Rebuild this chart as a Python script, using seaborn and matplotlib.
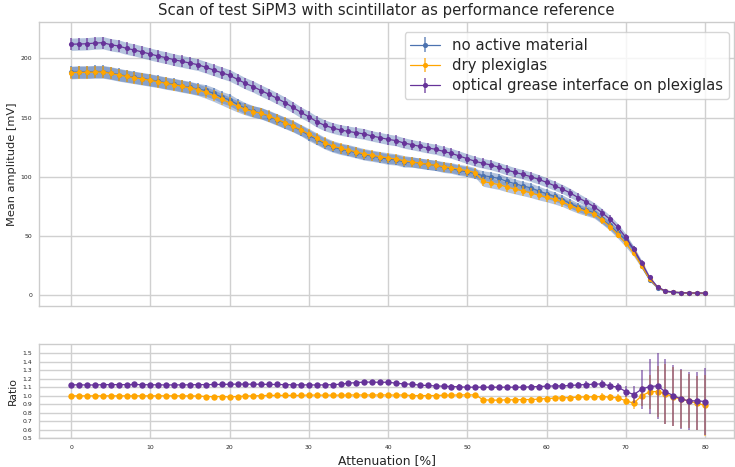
import matplotlib
matplotlib.use("Agg")
import numpy as np
import pandas as pd
import seaborn as sns
import matplotlib.pyplot as plt
from matplotlib.container import ErrorbarContainer

# ---------------- data ----------------
attenuation = list(range(0, 81))

amp_no_material = [
    188.3, 188.6, 188.6, 188.9, 188.9, 187.8, 186.4, 185.2, 184.1, 183.0,
    181.9, 180.7, 179.3, 178.2, 176.8, 175.6, 174.0, 172.9, 170.5, 167.2,
    165.0, 161.1, 157.8, 155.3, 153.6, 150.8, 148.1, 145.3, 142.5, 139.1,
    135.0, 131.6, 128.0, 125.2, 123.3, 121.9, 120.2, 118.5, 117.4, 116.2,
    114.8, 114.3, 112.5, 112.4, 111.4, 110.4, 109.5, 107.9, 107.0, 105.3,
    104.2, 102.6, 100.9, 99.9, 98.5, 96.0, 94.1, 92.2, 90.6, 88.0,
    85.6, 83.3, 80.7, 77.3, 74.1, 71.7, 69.5, 64.0, 58.9, 52.4,
    46.5, 38.6, 24.5, 12.9, 6.2, 3.2, 2.4, 2.0, 1.8, 1.75,
    1.6]

amp_dry_plexiglas = [
    187.9, 188.2, 188.2, 188.5, 188.5, 187.4, 186.0, 184.8, 183.7, 182.6,
    181.5, 180.3, 178.9, 177.8, 176.4, 175.2, 173.6, 171.2, 168.5, 165.5,
    162.5, 159.5, 157.0, 155.0, 153.6, 151.3, 148.5, 145.7, 142.9, 139.5,
    136.1, 132.4, 128.8, 126.0, 124.0, 122.6, 120.9, 119.2, 118.1, 116.9,
    115.8, 115.0, 113.5, 112.5, 111.5, 110.5, 109.6, 108.5, 107.6, 106.2,
    105.1, 103.5, 96.0, 94.6, 93.3, 91.3, 89.5, 88.0, 86.4, 84.4,
    82.7, 80.8, 78.6, 75.6, 72.8, 70.7, 68.5, 63.4, 57.8, 51.0,
    43.7, 35.2, 24.5, 13.5, 6.5, 3.3, 2.4, 1.9, 1.7, 1.6,
    1.4]

amp_optical_grease = [
    212.0, 212.2, 212.4, 213.0, 213.3, 211.6, 210.5, 208.5, 207.1, 205.4,
    203.7, 202.0, 200.6, 198.9, 197.5, 196.1, 194.7, 192.5, 190.2, 187.9,
    185.7, 182.3, 178.9, 176.1, 172.7, 169.6, 166.2, 162.6, 158.6, 154.4,
    150.7, 146.5, 143.4, 141.2, 139.5, 138.3, 137.2, 136.1, 134.4, 133.0,
    131.6, 130.5, 128.5, 127.1, 125.7, 124.3, 123.2, 121.4, 119.7, 117.5,
    115.2, 113.0, 111.3, 109.9, 107.9, 105.7, 103.7, 102.0, 100.0, 97.8,
    95.2, 92.4, 89.6, 86.2, 82.3, 78.6, 74.6, 69.6, 64.0, 57.2,
    48.7, 38.6, 27.3, 14.9, 6.8, 3.4, 2.5, 2.0, 1.7, 1.7,
    1.6]

amp_err = [
    5.2, 5.2, 5.2, 5.2, 5.2, 5.2, 5.2, 5.1, 5.1, 5.1,
    5.1, 5.0, 5.0, 5.0, 5.0, 5.0, 4.9, 4.9, 4.9, 4.9,
    4.9, 4.8, 4.8, 4.8, 4.8, 4.7, 4.7, 4.7, 4.7, 4.6,
    4.6, 4.6, 4.6, 4.5, 4.5, 4.5, 4.5, 4.5, 4.4, 4.4,
    4.4, 4.4, 4.4, 4.3, 4.3, 4.3, 4.3, 4.3, 4.2, 4.2,
    4.2, 4.2, 4.1, 4.1, 4.1, 4.1, 4.0, 4.0, 4.0, 4.0,
    3.9, 3.9, 3.8, 3.8, 3.7, 3.6, 3.5, 3.4, 3.3, 3.1,
    3.0, 2.5, 2.0, 1.3, 0.8, 0.5, 0.5, 0.5, 0.5, 0.5,
    0.5]

ratio_dry_plexiglas = [
    0.998, 0.998, 0.998, 0.998, 0.998, 0.998, 0.998, 0.998, 0.998, 0.998,
    0.998, 0.998, 0.998, 0.998, 0.998, 0.997, 0.996, 0.990, 0.988, 0.990,
    0.985, 0.990, 0.995, 0.998, 1.000, 1.003, 1.003, 1.003, 1.003, 1.003,
    1.008, 1.006, 1.006, 1.006, 1.006, 1.008, 1.008, 1.008, 1.008, 1.008,
    1.009, 1.006, 1.009, 1.001, 1.001, 1.001, 1.001, 1.006, 1.006, 1.009,
    1.009, 1.009, 0.951, 0.947, 0.947, 0.951, 0.951, 0.954, 0.954, 0.959,
    0.966, 0.970, 0.974, 0.978, 0.982, 0.986, 0.986, 0.990, 0.982, 0.974,
    0.939, 0.912, 0.998, 1.045, 1.049, 1.021, 0.986, 0.959, 0.935, 0.912,
    0.884]

ratio_optical_grease = [
    1.127, 1.128, 1.126, 1.126, 1.130, 1.130, 1.130, 1.130, 1.132, 1.130,
    1.128, 1.128, 1.126, 1.127, 1.127, 1.128, 1.130, 1.130, 1.132, 1.133,
    1.135, 1.136, 1.136, 1.135, 1.135, 1.133, 1.132, 1.130, 1.128, 1.127,
    1.127, 1.126, 1.127, 1.130, 1.135, 1.147, 1.155, 1.160, 1.160, 1.157,
    1.159, 1.147, 1.139, 1.135, 1.124, 1.120, 1.115, 1.112, 1.108, 1.104,
    1.100, 1.100, 1.100, 1.100, 1.100, 1.100, 1.100, 1.100, 1.104, 1.108,
    1.112, 1.115, 1.115, 1.120, 1.127, 1.131, 1.135, 1.139, 1.115, 1.100,
    1.049, 1.013, 1.076, 1.108, 1.115, 1.045, 1.001, 0.959, 0.939, 0.939,
    0.931]

ratio_err_dry = [
    0.018, 0.018, 0.018, 0.018, 0.018, 0.018, 0.018, 0.018, 0.018, 0.018,
    0.018, 0.018, 0.018, 0.018, 0.018, 0.019, 0.019, 0.019, 0.020, 0.020,
    0.020, 0.020, 0.020, 0.021, 0.021, 0.021, 0.021, 0.022, 0.022, 0.022,
    0.022, 0.022, 0.023, 0.023, 0.023, 0.024, 0.024, 0.024, 0.024, 0.025,
    0.025, 0.025, 0.025, 0.025, 0.026, 0.026, 0.026, 0.026, 0.027, 0.027,
    0.027, 0.027, 0.028, 0.028, 0.028, 0.029, 0.029, 0.029, 0.030, 0.030,
    0.031, 0.031, 0.032, 0.033, 0.034, 0.035, 0.036, 0.038, 0.040, 0.045,
    0.055, 0.070, 0.120, 0.200, 0.300, 0.350, 0.350, 0.340, 0.320, 0.320,
    0.360]

ratio_err_grease = [
    0.020, 0.020, 0.020, 0.020, 0.020, 0.020, 0.020, 0.020, 0.020, 0.020,
    0.020, 0.020, 0.020, 0.020, 0.020, 0.021, 0.021, 0.021, 0.022, 0.022,
    0.022, 0.022, 0.022, 0.023, 0.023, 0.023, 0.023, 0.024, 0.024, 0.024,
    0.024, 0.024, 0.025, 0.025, 0.025, 0.026, 0.026, 0.026, 0.026, 0.027,
    0.027, 0.027, 0.027, 0.027, 0.028, 0.028, 0.028, 0.028, 0.029, 0.029,
    0.029, 0.029, 0.030, 0.030, 0.030, 0.031, 0.031, 0.031, 0.032, 0.032,
    0.033, 0.033, 0.034, 0.035, 0.037, 0.039, 0.041, 0.044, 0.048, 0.052,
    0.060, 0.100, 0.230, 0.320, 0.390, 0.385, 0.365, 0.355, 0.340, 0.340,
    0.390]

labels = ["no active material", "dry plexiglas",
          "optical grease interface on plexiglas"]

# ---------------- style ----------------
sns.set_theme(style="whitegrid")
plt.rcParams["font.family"] = ["DejaVu Sans"]
plt.rcParams["axes.edgecolor"] = "#cccccc"
plt.rcParams["grid.color"] = "#d0d0d0"

blue = sns.color_palette("deep")[0]
colors = [blue, "orange", "rebeccapurple"]
band_color = blue

fig = plt.figure(figsize=(7.35, 4.67), dpi=100)
W, H = 735.0, 467.0
ax1 = fig.add_axes([39 / W, 1 - 306 / H, 695 / W, 284 / H])
ax2 = fig.add_axes([39 / W, 1 - 438 / H, 695 / W, 94 / H], sharex=ax1)

df = pd.DataFrame({
    "attenuation": attenuation,
    labels[0]: amp_no_material,
    labels[1]: amp_dry_plexiglas,
    labels[2]: amp_optical_grease,
    "err": amp_err,
})
rdf = pd.DataFrame({
    "attenuation": attenuation,
    labels[1]: ratio_dry_plexiglas,
    labels[2]: ratio_optical_grease,
    "err_" + labels[1]: ratio_err_dry,
    "err_" + labels[2]: ratio_err_grease,
})

x = df["attenuation"].to_numpy()
# error bands (all in the default first colour)
for lab in labels:
    y = df[lab].to_numpy()
    e = df["err"].to_numpy()
    ax1.fill_between(x, y - e, y + e, color=band_color, alpha=0.42, lw=0,
                     zorder=1)

handles = []
for i, (lab, col) in enumerate(zip(labels, colors)):
    sns.lineplot(data=df, x="attenuation", y=lab, ax=ax1, color=col,
                 marker="o", markersize=3.7, markeredgewidth=0, linewidth=0.9,
                 legend=False, zorder=3 + i)
    line = ax1.lines[-1]
    eb = ax1.errorbar(df["attenuation"], df[lab], yerr=df["err"], fmt="none",
                      ecolor=col, elinewidth=1.2, alpha=0.75, zorder=2.5 + i)
    handles.append(ErrorbarContainer((line, (), eb.lines[2]),
                                     has_xerr=False, has_yerr=True, label=lab))

for i, (lab, col) in enumerate(zip(labels[1:], colors[1:])):
    sns.lineplot(data=rdf, x="attenuation", y=lab, ax=ax2, color=col,
                 marker="o", markersize=4.6, markeredgewidth=0, linewidth=0.9,
                 legend=False, zorder=3 + i)
    ax2.errorbar(rdf["attenuation"], rdf[lab], yerr=rdf["err_" + lab],
                 fmt="none", ecolor=col, elinewidth=1.2, alpha=0.65,
                 zorder=2.5 + i)

# ---------------- axes cosmetics ----------------
ax1.set_xlim(-4.05, 83.65)
ax1.set_ylim(-9.3, 230.8)
ax2.set_ylim(0.5, 1.61)
ax1.set_xticks([0, 10, 20, 30, 40, 50, 60, 70, 80])
ax1.set_yticks([0, 50, 100, 150, 200])
ax2.set_yticks([0.5, 0.6, 0.7, 0.8, 0.9, 1.0, 1.1, 1.2, 1.3, 1.4, 1.5])
ax2.set_yticklabels(["0.5", "0.6", "0.7", "0.8", "0.9", "1.0", "1.1", "1.2",
                     "1.3", "1.4", "1.5"])
plt.setp(ax1.get_xticklabels(), visible=False)

for ax in (ax1, ax2):
    ax.tick_params(axis="both", labelsize=4.4, colors=".15", pad=5, length=0)
    ax.grid(True, color="#d0d0d0", linewidth=1.0)
    for s in ax.spines.values():
        s.set_color("#cccccc")
        s.set_linewidth(1.0)

ax1.set_xlabel("")
ax1.set_ylabel("Mean amplitude [mV]", fontsize=8.2, color=".15")
ax1.yaxis.set_label_coords(-0.031, 0.5)
ax2.set_ylabel("Ratio", fontsize=7.8, color=".15")
ax2.yaxis.set_label_coords(-0.031, 0.5)
ax2.set_xlabel("Attenuation [%]", fontsize=8.9, color=".15", labelpad=3)

ax1.set_title("Scan of test SiPM3 with scintillator as performance reference",
              fontsize=10.7, color=".15", pad=5)

ax1.legend(handles=handles, labels=labels, loc="upper right",
           bbox_to_anchor=(729 / W, 1 - 32 / H),
           bbox_transform=fig.transFigure, borderaxespad=0,
           fontsize=10.7, frameon=True, labelspacing=0.35,
           handlelength=2.0, handletextpad=0.8, borderpad=0.4)

fig.savefig("out.png", dpi=100)
